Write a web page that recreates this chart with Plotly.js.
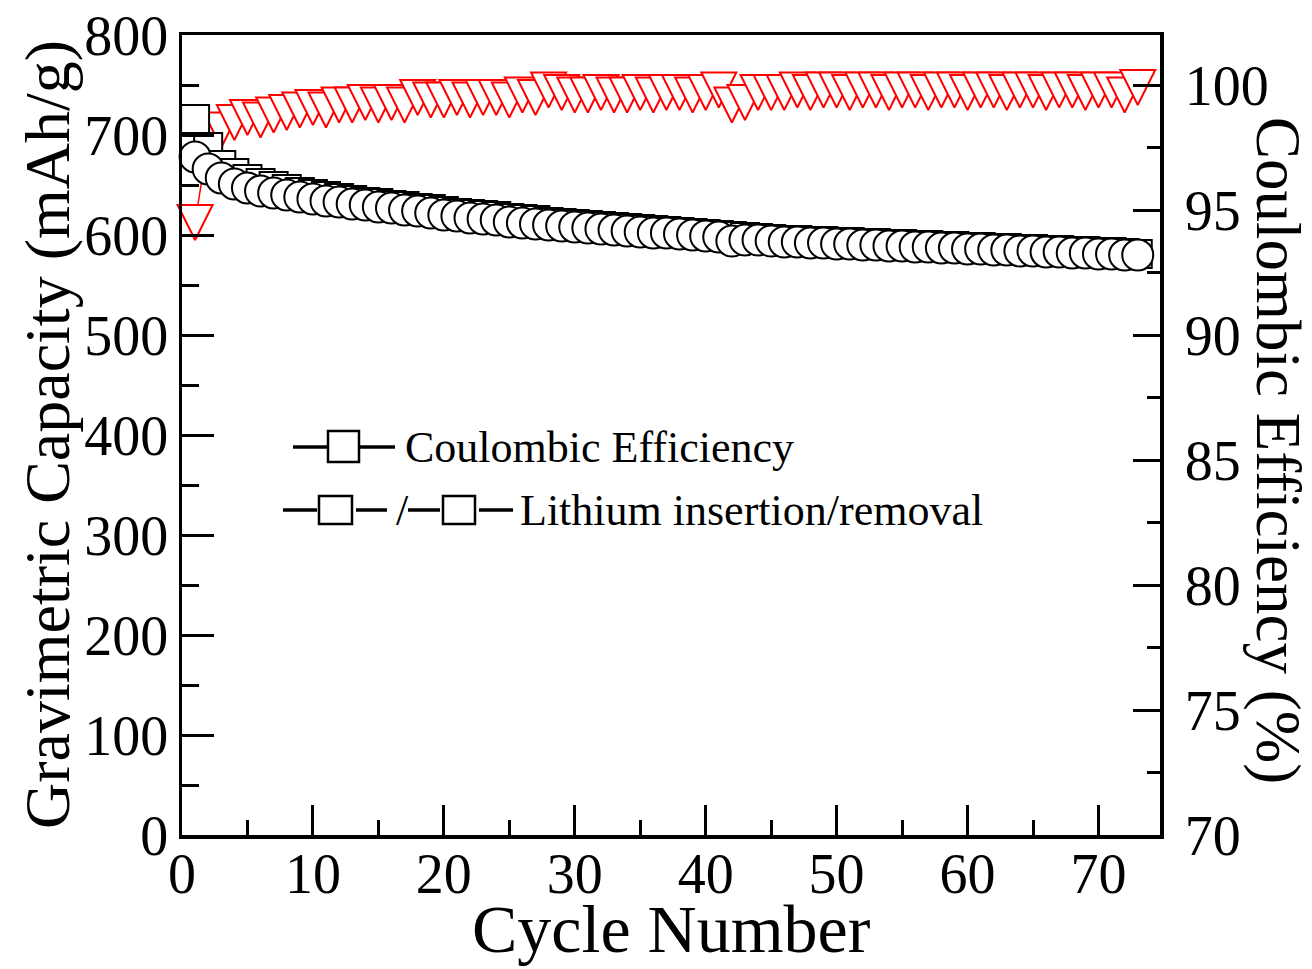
<!DOCTYPE html>
<html><head><meta charset="utf-8">
<script src="https://cdn.plot.ly/plotly-3.0.1.min.js"></script>
<style>html,body{margin:0;padding:0;background:#fff}#chart{width:1312px;height:969px}</style>
</head><body><div id="chart"></div>
<script>
const cycles = [1,2,3,4,5,6,7,8,9,10,11,12,13,14,15,16,17,18,19,20,21,22,23,24,25,26,27,28,29,30,31,32,33,34,35,36,37,38,39,40,41,42,43,44,45,46,47,48,49,50,51,52,53,54,55,56,57,58,59,60,61,62,63,64,65,66,67,68,69,70,71,72,73];
const insertion = [716,688,670,662,656,652,649,646,643,641,
  639,637,635,633,632,630,629,627,626,624,
  622,621,620,619,617,616,615,613,612,611,
  610,609,608,607,606,605,604,603,602,601,
  600,599,598,597,596,595,595,594,594,593,
  593,592,592,591,591,590,590,589,589,588,
  588,587,587,586,586,585,585,584,584,583,
  583,582,581];
const removal = [678,666,657,651,647,644,642,640,638,636,
  634,633,631,630,628,627,625,624,622,620,
  619,617,616,615,613,612,611,610,609,608,
  607,606,605,604,603,602,602,601,600,599,
  598,594,595,595,594,593,593,592,592,591,
  591,590,590,589,589,588,588,587,587,586,
  586,585,585,584,584,583,583,582,582,581,
  581,580,580];
const coulombicEfficiency = [94.5,97.8,98.2,98.5,98.7,98.6,98.8,98.9,99.0,99.1,
  99.0,99.2,99.2,99.3,99.2,99.3,99.2,99.5,99.4,99.4,
  99.5,99.4,99.5,99.5,99.4,99.6,99.5,99.8,99.7,99.6,
  99.6,99.7,99.6,99.6,99.7,99.6,99.7,99.7,99.6,99.7,
  99.8,99.2,99.3,99.7,99.7,99.7,99.8,99.7,99.8,99.8,
  99.7,99.8,99.8,99.7,99.8,99.8,99.7,99.8,99.8,99.7,
  99.8,99.8,99.7,99.8,99.8,99.7,99.8,99.8,99.7,99.8,
  99.8,99.6,99.9];
const xTicks = [0,10,20,30,40,50,60,70];
const xMinorTicks = [5,15,25,35,45,55,65];
const capTicks = [0,100,200,300,400,500,600,700,800];
const capMinorTicks = [50,150,250,350,450,550,650,750];
const ceTicks = [70,75,80,85,90,95,100];
const ceMinorTicks = [72.5,77.5,82.5,87.5,92.5,97.5];
const xTitle = 'Cycle Number';
const capTitle = 'Gravimetric Capacity (mAh/g)';
const ceTitle = 'Coulombic Efficiency (%)';
const legendRow1 = 'Coulombic Efficiency';
const legendRow2 = 'Lithium insertion/removal';

const FONT = 'Liberation Serif, Times New Roman, serif';
const L = 182, R = 1160, T = 35, B = 835;
const px = x => (x - L) / (R - L);
const py = y => (B - y) / (B - T);

const traces = [
  {x: cycles, y: coulombicEfficiency, yaxis: 'y', type: 'scatter', mode: 'lines+markers',
   line: {color: '#ff0000', width: 1.5},
   marker: {symbol: 'arrow-down', size: 35, standoff: 17.5, color: '#ffffff', line: {color: '#ff0000', width: 2}},
   showlegend: false, cliponaxis: false},
  {x: cycles, y: insertion, yaxis: 'y2', type: 'scatter', mode: 'lines+markers',
   line: {color: '#000000', width: 1.5},
   marker: {symbol: 'square', size: 28, color: '#ffffff', line: {color: '#000000', width: 2}},
   showlegend: false, cliponaxis: false},
  {x: cycles, y: removal, yaxis: 'y2', type: 'scatter', mode: 'lines+markers',
   line: {color: '#000000', width: 1.5},
   marker: {symbol: 'circle', size: 31, color: '#ffffff', line: {color: '#000000', width: 2}},
   showlegend: false, cliponaxis: false}
];

const axisCommon = {
  showline: true, linecolor: '#000', linewidth: 3.5, showgrid: false, zeroline: false,
  ticks: 'inside', tickcolor: '#000', tickwidth: 3,
  tickfont: {family: FONT, size: 56, color: '#000'}
};

const lw = 3.5;
const shapes = [
  {type: 'line', xref: 'paper', yref: 'paper', x0: px(293), x1: px(328), y0: py(447), y1: py(447), line: {color: '#000', width: lw}},
  {type: 'rect', xref: 'paper', yref: 'paper', x0: px(328), x1: px(359), y0: py(431), y1: py(462), fillcolor: '#fff', line: {color: '#000', width: 2.5}},
  {type: 'line', xref: 'paper', yref: 'paper', x0: px(359), x1: px(395), y0: py(447), y1: py(447), line: {color: '#000', width: lw}},
  {type: 'line', xref: 'paper', yref: 'paper', x0: px(283), x1: px(317), y0: py(510), y1: py(510), line: {color: '#000', width: lw}},
  {type: 'rect', xref: 'paper', yref: 'paper', x0: px(319), x1: px(352), y0: py(496), y1: py(524), fillcolor: '#fff', line: {color: '#000', width: 2.5}},
  {type: 'line', xref: 'paper', yref: 'paper', x0: px(356), x1: px(387), y0: py(510), y1: py(510), line: {color: '#000', width: lw}},
  {type: 'line', xref: 'paper', yref: 'paper', x0: px(408), x1: px(440), y0: py(510), y1: py(510), line: {color: '#000', width: lw}},
  {type: 'rect', xref: 'paper', yref: 'paper', x0: px(443), x1: px(475), y0: py(496), y1: py(524), fillcolor: '#fff', line: {color: '#000', width: 2.5}},
  {type: 'line', xref: 'paper', yref: 'paper', x0: px(479), x1: px(513), y0: py(510), y1: py(510), line: {color: '#000', width: lw}}
];

const annotations = [
  {xref: 'paper', yref: 'paper', x: px(671), y: py(929), text: xTitle, showarrow: false,
   xanchor: 'center', yanchor: 'middle', font: {family: FONT, size: 68, color: '#000'}},
  {xref: 'paper', yref: 'paper', x: px(47), y: py(435), text: capTitle, showarrow: false, textangle: -90,
   xanchor: 'center', yanchor: 'middle', font: {family: FONT, size: 64, color: '#000'}},
  {xref: 'paper', yref: 'paper', x: px(1278), y: py(450), text: ceTitle, showarrow: false, textangle: 90,
   xanchor: 'center', yanchor: 'middle', font: {family: FONT, size: 63, color: '#000'}},
  {xref: 'paper', yref: 'paper', x: px(403), y: py(447), text: legendRow1, showarrow: false,
   xanchor: 'left', yanchor: 'middle', font: {family: FONT, size: 44, color: '#000'}},
  {xref: 'paper', yref: 'paper', x: px(518), y: py(510), text: legendRow2, showarrow: false,
   xanchor: 'left', yanchor: 'middle', font: {family: FONT, size: 44, color: '#000'}},
  {xref: 'paper', yref: 'paper', x: px(402), y: py(510), text: '/', showarrow: false,
   xanchor: 'center', yanchor: 'middle', font: {family: FONT, size: 44, color: '#000'}}
];

const layout = {
  width: 1312, height: 969,
  margin: {l: L, r: 1312 - R, t: T, b: 969 - B, pad: 0},
  paper_bgcolor: '#fff', plot_bgcolor: '#fff',
  showlegend: false,
  xaxis: Object.assign({}, axisCommon, {
    range: [0, 74.7], tickmode: 'array', tickvals: xTicks, ticktext: xTicks.map(String),
    ticklen: 30, mirror: true, ticklabelstandoff: -13,
    minor: {tickmode: 'array', tickvals: xMinorTicks, ticks: 'inside', ticklen: 15, tickwidth: 3, tickcolor: '#000', showgrid: false}
  }),
  yaxis: Object.assign({}, axisCommon, {
    side: 'right', range: [70, 102], tickmode: 'array', tickvals: ceTicks, ticktext: ceTicks.map(String),
    ticklen: 27, ticklabelstandoff: 10,
    minor: {tickmode: 'array', tickvals: ceMinorTicks, ticks: 'inside', ticklen: 13, tickwidth: 3, tickcolor: '#000', showgrid: false}
  }),
  yaxis2: Object.assign({}, axisCommon, {
    side: 'left', overlaying: 'y', range: [0, 800], tickmode: 'array', tickvals: capTicks, ticktext: capTicks.map(String),
    ticklen: 32, ticklabelstandoff: -1,
    minor: {tickmode: 'array', tickvals: capMinorTicks, ticks: 'inside', ticklen: 17, tickwidth: 3, tickcolor: '#000', showgrid: false}
  }),
  shapes: shapes,
  annotations: annotations
};

Plotly.newPlot('chart', traces, layout, {displayModeBar: false, staticPlot: true});
</script>
</body></html>
